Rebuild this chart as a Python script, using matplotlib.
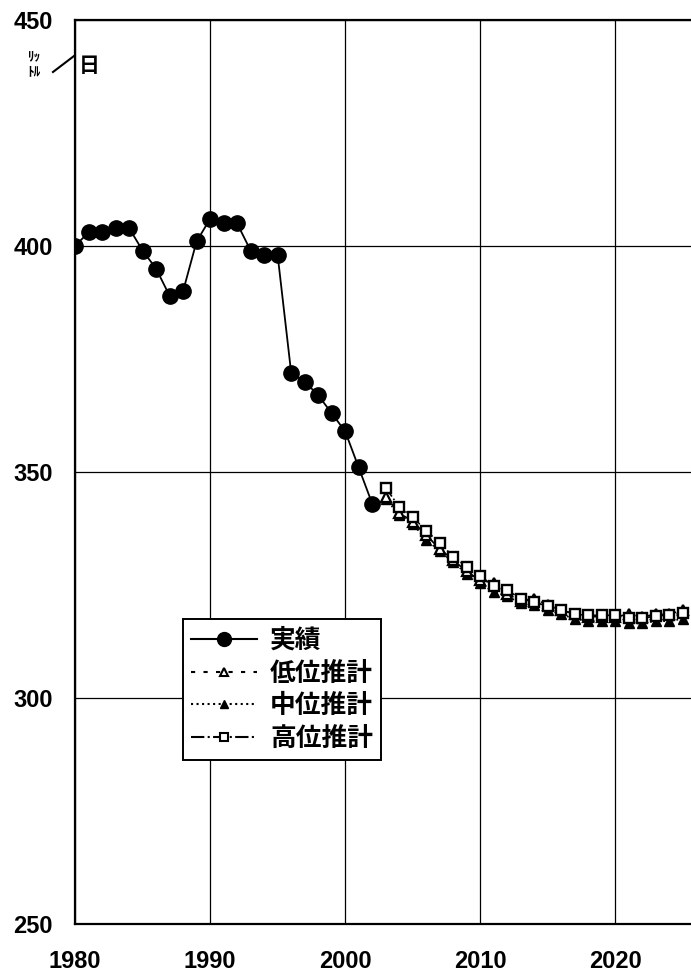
import matplotlib
matplotlib.use('Agg')
import matplotlib.pyplot as plt
from matplotlib.lines import Line2D

plt.rcParams['font.family'] = ['Liberation Sans Narrow', 'Liberation Sans', 'Noto Sans CJK JP', 'DejaVu Sans']

# 実績
years_act = list(range(1980, 2003))
actual = [400, 403, 403, 404, 404, 399, 395, 389, 390, 401, 406, 405, 405,
          399, 398, 398, 372, 370, 367, 363, 359, 351, 343]

# 推計 (2003-2025)
years_proj = list(range(2003, 2026))
low = [344.5, 341.0, 339.0, 336.0, 333.0, 330.5, 328.0, 326.0, 325.5, 323.0, 321.5,
       322.0, 320.5, 319.5, 318.5, 318.0, 318.0, 318.0, 318.5, 318.0, 318.5, 318.5, 319.5]
mid = [344.0, 340.5, 338.5, 335.0, 332.5, 330.0, 327.5, 325.5, 323.5, 322.5, 321.0,
       320.5, 319.5, 318.5, 317.5, 317.0, 317.0, 317.0, 316.5, 316.5, 317.0, 317.0, 317.5]
high = [346.5, 342.3, 340.0, 337.0, 334.3, 331.3, 329.0, 327.0, 324.8, 323.8, 322.0,
        321.2, 320.3, 319.5, 318.5, 318.3, 318.3, 318.3, 317.6, 317.6, 318.2, 318.3, 318.8]

yticks = [250, 300, 350, 400, 450]
xticks = [1980, 1990, 2000, 2010, 2020]

W, H = 691, 976
fig = plt.figure(figsize=(W / 100, H / 100), dpi=100)
ax = fig.add_axes([75 / W, (H - 924) / H, (W - 75) / W, 904 / H])

ax.plot(years_act, actual, color='black', lw=1.3, marker='o', ms=11, mfc='black', mec='black', zorder=5)
ax.plot(years_proj, mid, color='black', lw=1.2, ls=':', marker='^', ms=7.5, mfc='black', mec='black', zorder=4)
ax.plot(years_proj, low, color='black', lw=1.2, ls='--', marker='^', ms=7.5, mfc='white', mec='black', mew=1.6, zorder=5)
ax.plot(years_proj, high, color='black', lw=1.2, ls='-.', marker='s', ms=7.5, mfc='white', mec='black', mew=1.7, zorder=6)

ax.set_xlim(1980, 2025.6)
ax.set_ylim(250, 450)
ax.set_xticks(xticks)
ax.set_yticks(yticks)
ax.grid(True, color='black', lw=0.9)
ax.tick_params(length=0, labelsize=17)
ax.tick_params(axis='y', pad=16)
ax.tick_params(axis='x', pad=19)
for lab in ax.get_xticklabels() + ax.get_yticklabels():
    lab.set_fontweight('bold')
ax.spines['right'].set_visible(False)
for s in ['left', 'bottom', 'top']:
    ax.spines[s].set_linewidth(1.6)

# 単位
jp = ['Noto Sans CJK JP', 'DejaVu Sans']
fig.text(27 / W, 1 - 56 / H, 'ﾘｯ', fontsize=9.5, family=jp, fontweight='bold', va='center')
fig.text(27 / W, 1 - 71 / H, 'ﾄﾙ', fontsize=9.5, family=jp, fontweight='bold', va='center')
fig.add_artist(Line2D([53 / W, 74 / W], [1 - 72 / H, 1 - 56 / H], color='black', lw=1.5))
fig.text(79 / W, 1 - 65 / H, '日', fontsize=15, family=jp, fontweight='bold', va='center')

handles = [
    Line2D([], [], color='black', lw=1.5, marker='o', ms=10, mfc='black'),
    Line2D([], [], color='black', lw=1.5, ls=(0, (2, 4)), marker='^', ms=6, mfc='white', mew=1.5),
    Line2D([], [], color='black', lw=1.5, ls=':', marker='^', ms=6, mfc='black'),
    Line2D([], [], color='black', lw=1.5, ls='-.', marker='s', ms=6, mfc='white', mew=1.5),
]
labels = ['実績', '低位推計', '中位推計', '高位推計']
leg = ax.legend(handles, labels, loc='upper left', bbox_to_anchor=(0.175, 0.337),
                prop={'family': jp, 'size': 18.5, 'weight': 'bold'}, fancybox=False,
                edgecolor='black', framealpha=1, handlelength=2.6, borderpad=0.3,
                labelspacing=0.22, handletextpad=0.5, borderaxespad=0)
leg.get_frame().set_linewidth(1.4)

fig.savefig('out.png', dpi=100)
